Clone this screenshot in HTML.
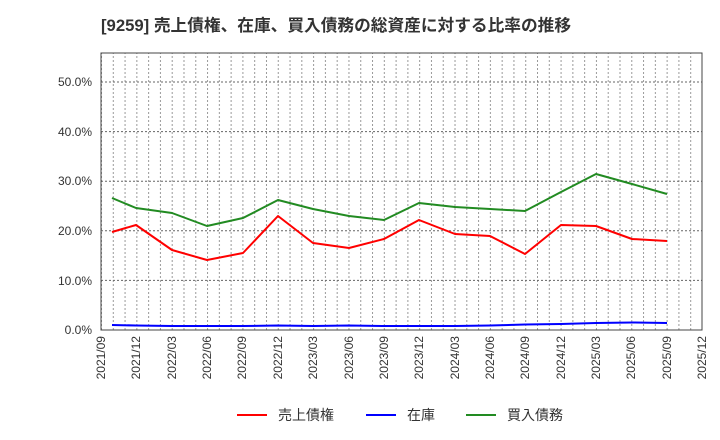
<!DOCTYPE html>
<html><head><meta charset="utf-8"><style>
body{margin:0;background:#fff;}
svg{display:block;font-family:"Liberation Sans","Noto Sans CJK JP",sans-serif;}
</style></head><body>
<svg width="720" height="440" viewBox="0 0 720 440" xmlns="http://www.w3.org/2000/svg">
<defs>
<pattern id="vg" x="101" y="0" width="11.784" height="440" patternUnits="userSpaceOnUse">
<line x1="0.5" y1="0" x2="0.5" y2="440" stroke="#999" stroke-width="1" stroke-dasharray="2,2"/>
</pattern>
</defs>
<text x="101" y="31" font-size="16.7" font-weight="bold" fill="#333">[9259]  売上債権、在庫、買入債務の総資産に対する比率の推移</text>
<rect x="101" y="53" width="601" height="277" fill="url(#vg)"/>
<g stroke="#666" stroke-width="1" stroke-dasharray="2,2">
<line x1="101" y1="280.4" x2="702" y2="280.4"/>
<line x1="101" y1="230.8" x2="702" y2="230.8"/>
<line x1="101" y1="181.2" x2="702" y2="181.2"/>
<line x1="101" y1="131.6" x2="702" y2="131.6"/>
<line x1="101" y1="82" x2="702" y2="82"/>
</g>
<rect x="101" y="53" width="601" height="277" fill="none" stroke="#444" stroke-width="1"/>
<g font-size="12" fill="#333" text-anchor="end">
<text x="92" y="334">0.0%</text>
<text x="92" y="285">10.0%</text>
<text x="92" y="235">20.0%</text>
<text x="92" y="185">30.0%</text>
<text x="92" y="136">40.0%</text>
<text x="92" y="86">50.0%</text>
</g>
<g font-size="12" fill="#333" text-anchor="end">
<text transform="translate(105,336) rotate(-90)">2021/09</text>
<text transform="translate(140,336) rotate(-90)">2021/12</text>
<text transform="translate(176,336) rotate(-90)">2022/03</text>
<text transform="translate(211,336) rotate(-90)">2022/06</text>
<text transform="translate(246,336) rotate(-90)">2022/09</text>
<text transform="translate(282,336) rotate(-90)">2022/12</text>
<text transform="translate(317,336) rotate(-90)">2023/03</text>
<text transform="translate(353,336) rotate(-90)">2023/06</text>
<text transform="translate(388,336) rotate(-90)">2023/09</text>
<text transform="translate(423,336) rotate(-90)">2023/12</text>
<text transform="translate(459,336) rotate(-90)">2024/03</text>
<text transform="translate(494,336) rotate(-90)">2024/06</text>
<text transform="translate(529,336) rotate(-90)">2024/09</text>
<text transform="translate(565,336) rotate(-90)">2024/12</text>
<text transform="translate(600,336) rotate(-90)">2025/03</text>
<text transform="translate(635,336) rotate(-90)">2025/06</text>
<text transform="translate(671,336) rotate(-90)">2025/09</text>
<text transform="translate(706,336) rotate(-90)">2025/12</text>
</g>
<g fill="none" stroke-width="2" stroke-linejoin="round">
<polyline stroke="#228B22" points="112,198 136,208 172,213 207,226 243,218 278,200 313,209 349,216 384,220 419,203 455,207 490,209 525,211 561,192 596,174 632,184 667,194"/>
<polyline stroke="#ff0000" points="112,232 136,225 172,250 207,260 243,253 278,216 313,243 349,248 384,239 419,220 455,234 490,236 525,254 561,225 596,226 632,239 667,241"/>
<polyline stroke="#0000ff" points="112,325 136,325.5 172,326 207,326 243,326 278,325.5 313,326 349,325.5 384,326 419,326 455,326 490,325.5 525,324.5 561,324 596,323 632,322.5 667,323"/>
</g>
<g font-size="14" fill="#333">
<line x1="237" y1="415" x2="267" y2="415" stroke="#ff0000" stroke-width="2"/>
<text x="278" y="420">売上債権</text>
<line x1="366" y1="415" x2="396" y2="415" stroke="#0000ff" stroke-width="2"/>
<text x="407" y="420">在庫</text>
<line x1="466" y1="415" x2="496" y2="415" stroke="#228B22" stroke-width="2"/>
<text x="507" y="420">買入債務</text>
</g>
</svg>
</body></html>
